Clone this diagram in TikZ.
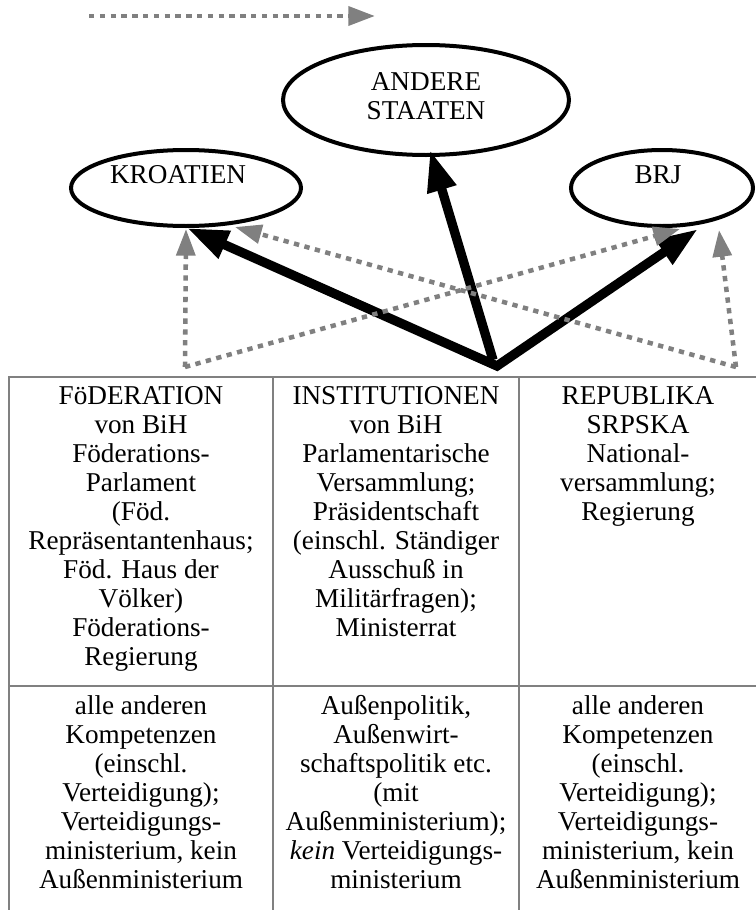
\documentclass[tikz,border=0pt]{standalone}
\usepackage{fontspec}
\setmainfont{Liberation Serif}
\usetikzlibrary{arrows.meta,shapes.geometric}
\begin{document}
\begin{tikzpicture}[x=0.75pt,y=-0.75pt,
  txt/.style={font=\fontsize{20.4pt}{21.75pt}\selectfont, inner sep=0pt, align=center},
  ell/.style={draw, line width=3pt, ellipse, inner sep=0pt},
  blkline/.style={line width=7pt, line join=miter},
  blktip/.tip={Triangle[length=31pt,width=21pt]},
  grytip/.tip={Triangle[length=20pt,width=14pt]},
  gry/.style={draw=gray, line width=3.4pt, dash pattern=on 4pt off 4.1pt, -{grytip}},
  gridline/.style={draw=gray, line width=1.5pt}]
\useasboundingbox (0,0) rectangle (756,910);

% ellipses
\node[ell, minimum width=172.5pt, minimum height=57pt] (kro) at (186,188) {};
\node[ell, minimum width=214.5pt, minimum height=82.5pt] (and) at (426,100) {};
\node[ell, minimum width=136.5pt, minimum height=57pt] (brj) at (662,188) {};
\node[txt, anchor=base] (krot) at (178,183) {KROATIEN};
\node[txt, anchor=north] (andt) at (426,72.5) {ANDERE\\STAATEN};
\node[txt, anchor=base] (brjt) at (658,183) {BRJ};

% table
\draw[gridline] (760,377) -- (9,377) -- (9,914);
\draw[gridline] (273,377) -- (273,914);
\draw[gridline] (519,377) -- (519,914);
\draw[gridline] (9,686) -- (760,686);

\node[txt, anchor=north] (c11) at (141,386) {FöDERATION\\von BiH\\Föderations-\\Parlament\\(Föd.\\Repräsentantenhaus;\\Föd. Haus der\\Völker)\\Föderations-\\Regierung};
\node[txt, anchor=north] (c12) at (396,386) {INSTITUTIONEN\\von BiH\\Parlamentarische\\Versammlung;\\Präsidentschaft\\(einschl. Ständiger\\Ausschuß in\\Militärfragen);\\Ministerrat};
\node[txt, anchor=north] (c13) at (638,386) {REPUBLIKA\\SRPSKA\\National-\\versammlung;\\Regierung};
\node[txt, anchor=north] (c21) at (141,695) {alle anderen\\Kompetenzen\\(einschl.\\Verteidigung);\\Verteidigungs-\\ministerium, kein\\Außenministerium};
\node[txt, anchor=north] (c22) at (396,695) {Außenpolitik,\\Außenwirt-\\schaftspolitik etc.\\(mit\\Außenministerium);\\\textit{kein} Verteidigungs-\\ministerium};
\node[txt, anchor=north] (c23) at (638,695) {alle anderen\\Kompetenzen\\(einschl.\\Verteidigung);\\Verteidigungs-\\ministerium, kein\\Außenministerium};

% coordinates
\coordinate (V) at (497,366);
\coordinate (tK) at (187,228);
\coordinate (tB) at (698,229);
\coordinate (aS) at (493,360);
\coordinate (tA) at (430,150);
\coordinate (gL) at (185,367);
\coordinate (gR) at (736,367);
\coordinate (gKv) at (186,229);
\coordinate (gBd) at (680,229);
\coordinate (gBv) at (719,230);
\coordinate (gKd) at (235,227);
\coordinate (lg1) at (89,16);
\coordinate (lg2) at (375,16);

% black arrows
\draw[blkline, blktip-blktip] (tK) -- (V) -- (tB);
\draw[blkline, -blktip] (aS) -- (tA);

% gray dotted arrows
\draw[gry] (lg1) -- (lg2);
\draw[gry] (gL) -- (gKv);
\draw[gry] (gL) -- (gBd);
\draw[gry] (gR) -- (gBv);
\draw[gry] (gR) -- (gKd);
\end{tikzpicture}
\end{document}
